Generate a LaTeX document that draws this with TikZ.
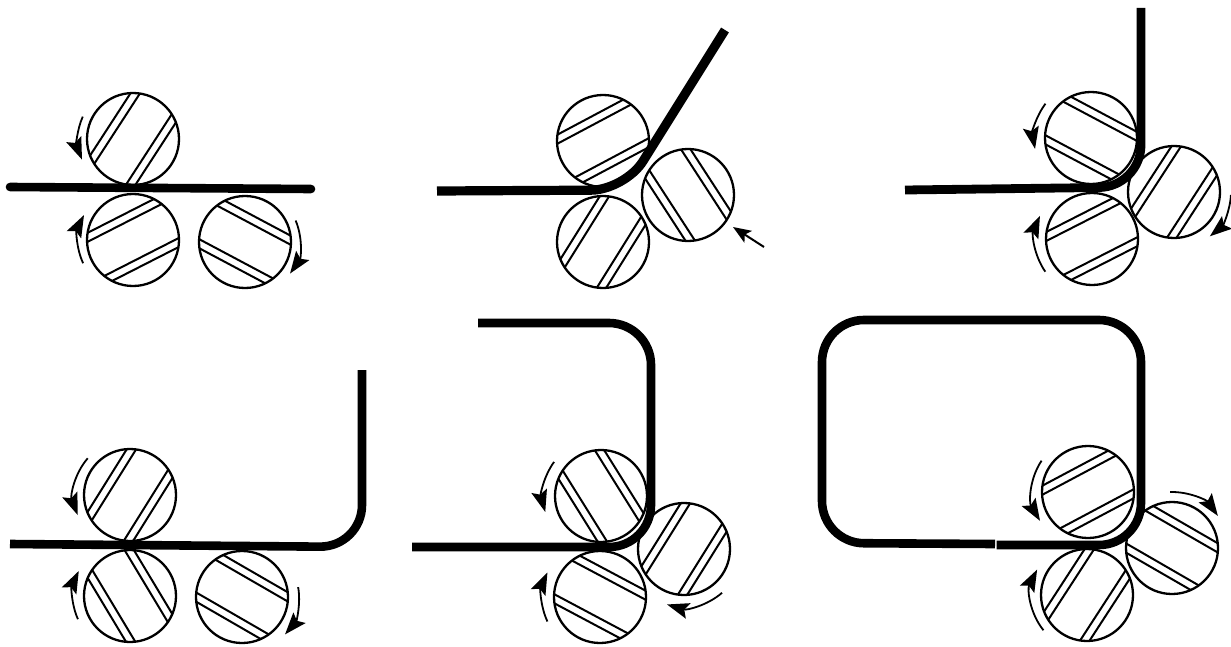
\documentclass[tikz,border=0pt]{standalone}
\usetikzlibrary{arrows.meta}
\tikzset{
  every picture/.style={line width=1.15pt},
  sheet/.style={line width=#1, line join=round},
  sheet/.default=4.3pt,
  turnarrow/.style={-{Stealth[length=11pt, width=8pt, inset=2pt]}, line width=0.9pt},
}
% x y angle of the stripes
\newcommand{\roller}[3]{
  \draw (#1,#2) circle[radius=23pt];
  \begin{scope}[shift={(#1,#2)}, rotate=#3, line width=1pt]
    \foreach \off/\half in {19/41.9, 27/37.2} {
      \draw (-\half,\off) -- (\half,\off);
      \draw (-\half,-\off) -- (\half,-\off);
    }
  \end{scope}
}
% x y start end radius in pt
\newcommand{\turn}[5]{
  \draw[turnarrow] ([shift={(#3:#5pt)}]#1,#2) arc[start angle=#3, end angle=#4, radius=#5pt];
}
\begin{document}
\begin{tikzpicture}[x=0.5pt, y=-0.5pt]
  \useasboundingbox (0,0) rectangle (1231,647);
  % top row
  \roller{133}{139}{57}
  \roller{133}{240}{27}
  \roller{245}{242}{-28}
  \draw[sheet, line cap=round] (10,187) -- (311,189);
  \turn{133}{139}{156}{202}{27.5}
  \turn{133}{240}{205}{153}{27.5}
  \turn{245}{242}{23}{-35}{27.5}

  \roller{603}{141}{28}
  \roller{603}{242}{58}
  \roller{688}{195}{-57}
  \draw[sheet=4.6pt, rounded corners=17pt] (437,191) -- (625,190) -- (725,30);
  \draw[-{Stealth[length=9pt, width=7pt, inset=2pt]}, line width=1pt] (764,247) -- (733,227);

  \roller{1091}{138}{-28}
  \roller{1092}{239}{27}
  \roller{1174}{192}{57}
  \draw[sheet=4.4pt, rounded corners=21pt] (905,190) -- (1141,187) -- (1141,8);
  \turn{1091}{138}{143}{191}{28.5}
  \turn{1092}{239}{215}{156}{28.5}
  \turn{1174}{192}{-3}{-51}{28.5}

  % bottom row
  \roller{130}{495}{58}
  \roller{130}{596}{-59}
  \roller{242}{597}{-30}
  \draw[sheet, rounded corners=21pt] (10,544) -- (362,547) -- (362,370);
  \turn{130}{495}{139}{201}{28}
  \turn{130}{596}{204}{154}{28.5}
  \turn{242}{597}{10}{-41}{28.5}

  \roller{601}{496}{-58}
  \roller{600}{597}{-28}
  \roller{684}{549}{58}
  \draw[sheet, rounded corners=21pt] (412,547) -- (651,547) -- (651,323) -- (478,323);
  \turn{601}{496}{144}{196}{29}
  \turn{600}{597}{205}{155}{29}
  \turn{684}{549}{-49}{-107}{29}

  \roller{1088}{492}{28}
  \roller{1087}{595}{57}
  \roller{1172}{548}{-30}
  \draw[sheet, rounded corners=21pt] (995,544) -- (822,543) -- (822,320) -- (1141,320) -- (1141,545) -- (996.5,545);
  \turn{1088}{492}{146}{211}{28}
  \turn{1087}{595}{219}{153}{28}
  \turn{1172}{548}{92}{35}{28}
\end{tikzpicture}
\end{document}
